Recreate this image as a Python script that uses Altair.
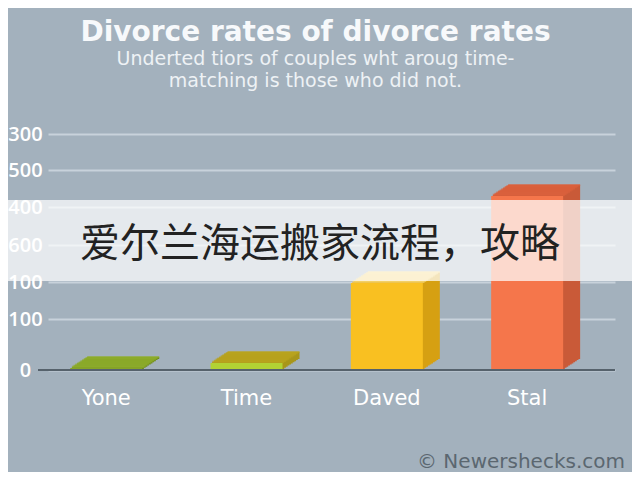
import altair as alt
import pandas as pd

categories = ["Yone", "Time", "Daved", "Stal"]
values = [2, 7, 87, 174]
tick_values = [0, 51, 88, 125, 163, 200, 236]
tick_labels = ["0", "100", "100", "600", "400", "500", "300"]

title_text = "Divorce rates of divorce rates"
subtitle_lines = ["Underted tiors of couples wht aroug  time-", "matching is those who did not."]
banner_text = "爱尔兰海运搬家流程，攻略"
watermark_text = "© Newershecks.com"

front_colors = ["#86a428", "#b2d234", "#f9c021", "#f5764b"]
side_colors = ["#6f8a1c", "#a8961a", "#d6a012", "#c95a38"]
top_colors = ["#8fae2c", "#b9a41e", "#f6d46c", "#dc613d"]

BG = "#a3b1bd"
W, H = 567, 250
DX, DY, N = 17.0, 11.0, 10
FONT = "DejaVu Sans"

df = pd.DataFrame({"cat": categories, "val": values})
one = pd.DataFrame({"a": [0]})

label_expr = "[" + ",".join(f"'{t}'" for t in tick_labels) + "][indexof([" + \
    ",".join(str(v) for v in tick_values) + "], datum.value)]"

x_enc = alt.X(
    "cat:N", sort=categories, title=None,
    scale=alt.Scale(paddingInner=0.487, paddingOuter=0.264, align=0.3),
    axis=alt.Axis(labelAngle=0, domain=False, ticks=False, labelPadding=17,
                  labelColor="#ffffff", labelFontSize=21, labelFont=FONT,
                  labelFontWeight=500),
)
y_enc = alt.Y(
    "val:Q", title=None,
    scale=alt.Scale(domain=[0, H], nice=False, zero=True),
    axis=alt.Axis(values=tick_values, labelExpr=label_expr, grid=True,
                  gridColor="#c8d2db", gridWidth=2, domain=False, ticks=False,
                  labelAlign="center", labelPadding=23, labelColor="#ffffff",
                  labelFontSize=20, labelFont="Open Sans", labelFontWeight=600),
)

base = alt.Chart(df)
layers = []
for k in range(1, N + 1):
    layers.append(
        base.mark_bar(xOffset=k * DX / N, yOffset=-k * DY / N).encode(
            x=x_enc, y=y_enc,
            color=alt.Color("cat:N", scale=alt.Scale(domain=categories, range=side_colors), legend=None),
        )
    )
for k in range(1, N + 1):
    layers.append(
        base.mark_tick(xOffset=k * DX / N, yOffset=-k * DY / N, thickness=2.2, size=72,
                       orient="horizontal").encode(
            x=x_enc, y=y_enc,
            color=alt.Color("cat:N", scale=alt.Scale(domain=categories, range=top_colors), legend=None),
        )
    )
layers.append(
    base.mark_bar().encode(
        x=x_enc, y=y_enc,
        color=alt.Color("cat:N", scale=alt.Scale(domain=categories, range=front_colors), legend=None),
    )
)
baseline = alt.Chart(one).mark_rule(color="#56626c", strokeWidth=2).encode(
    x=alt.value(-10), x2=alt.value(W), y=alt.datum(0)
)
banner = alt.Chart(one).mark_rect(color="#ffffff", opacity=0.72).encode(
    x=alt.value(-40), x2=alt.value(W + 17), y=alt.value(80), y2=alt.value(161)
)
banner_label = alt.Chart(one).mark_text(
    text=banner_text, font="Noto Sans CJK SC", fontSize=40, align="left",
    baseline="middle", color="#222222"
).encode(x=alt.value(32), y=alt.value(125))
watermark = alt.Chart(one).mark_text(
    text=watermark_text, font=FONT, fontSize=20, align="right",
    baseline="middle", color="#5b6770"
).encode(x=alt.value(577), y=alt.value(342))

chart = alt.layer(*layers, baseline, banner, banner_label, watermark).resolve_scale(
    color="independent"
).properties(
    width=W, height=H,
    autosize=alt.AutoSizeParams(type="none"),
    padding={"left": 40, "top": 112, "right": 17, "bottom": 102},
    title=alt.TitleParams(
        text=title_text, subtitle=subtitle_lines, anchor="middle", dx=-16,
        fontSize=28, fontWeight="bold", font=FONT, color="#f7f9fb",
        subtitleFontSize=19, subtitleFont=FONT, subtitleColor="#eef2f5",
        subtitlePadding=3, subtitleLineHeight=22, offset=29,
    ),
).configure(background=BG).configure_view(stroke=None)

chart.save("out.html", embed_options={"renderer": "svg", "actions": False})
